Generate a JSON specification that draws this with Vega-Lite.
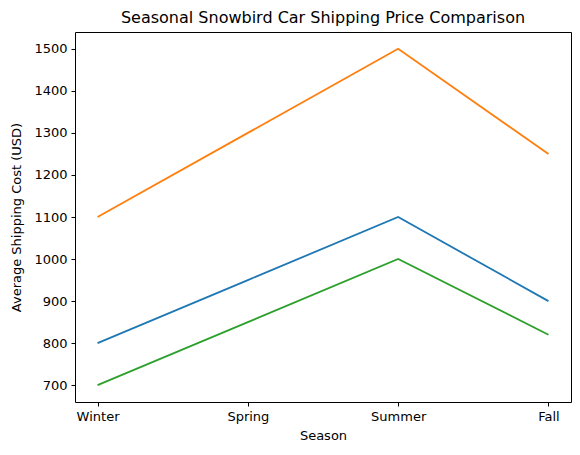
{
  "$schema": "https://vega.github.io/schema/vega-lite/v6.json",
  "autosize": {"type": "none"},
  "padding": {"left": 75, "top": 32, "right": 9, "bottom": 53},
  "width": 496,
  "height": 370,
  "background": "white",
  "title": {
    "text": "Seasonal Snowbird Car Shipping Price Comparison",
    "font": "DejaVu Sans",
    "fontSize": 16,
    "fontWeight": "normal",
    "color": "black",
    "offset": 6
  },
  "data": {
    "values": [
      {"Season": "Winter", "Series": "A", "Cost": 800},
      {"Season": "Spring", "Series": "A", "Cost": 950},
      {"Season": "Summer", "Series": "A", "Cost": 1100},
      {"Season": "Fall", "Series": "A", "Cost": 900},
      {"Season": "Winter", "Series": "B", "Cost": 1100},
      {"Season": "Spring", "Series": "B", "Cost": 1300},
      {"Season": "Summer", "Series": "B", "Cost": 1500},
      {"Season": "Fall", "Series": "B", "Cost": 1250},
      {"Season": "Winter", "Series": "C", "Cost": 700},
      {"Season": "Spring", "Series": "C", "Cost": 850},
      {"Season": "Summer", "Series": "C", "Cost": 1000},
      {"Season": "Fall", "Series": "C", "Cost": 820}
    ]
  },
  "mark": {"type": "line", "strokeWidth": 1.8},
  "encoding": {
    "x": {
      "field": "Season",
      "type": "ordinal",
      "sort": ["Winter", "Spring", "Summer", "Fall"],
      "scale": {"type": "point", "padding": 0.15},
      "title": "Season",
      "axis": {"labelAngle": 0}
    },
    "y": {
      "field": "Cost",
      "type": "quantitative",
      "scale": {"domain": [660, 1540], "nice": false, "zero": false},
      "axis": {"values": [700, 800, 900, 1000, 1100, 1200, 1300, 1400, 1500], "format": "d"},
      "title": "Average Shipping Cost (USD)"
    },
    "color": {
      "field": "Series",
      "type": "nominal",
      "scale": {"domain": ["A", "B", "C"], "range": ["#1f77b4", "#ff7f0e", "#2ca02c"]},
      "legend": null
    }
  },
  "config": {
    "view": {"stroke": "black", "strokeWidth": 1},
    "axis": {
      "grid": false,
      "domain": false,
      "tickColor": "black",
      "tickSize": 4,
      "labelFont": "DejaVu Sans",
      "labelFontSize": 13,
      "labelColor": "black",
      "labelPadding": 4,
      "titleFont": "DejaVu Sans",
      "titleFontSize": 13,
      "titleFontWeight": "normal",
      "titleColor": "black"
    },
    "axisY": {"titlePadding": 10},
    "axisX": {"titlePadding": 6}
  }
}
